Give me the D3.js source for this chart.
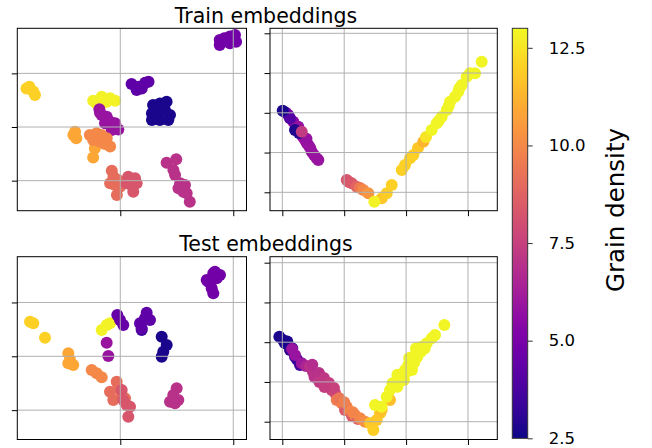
<!DOCTYPE html>
<html><head><meta charset="utf-8">
<script src="https://cdn.jsdelivr.net/npm/d3@7"></script>
<style>body{margin:0;background:#fff}svg{display:block}text{font-family:"DejaVu Sans",sans-serif;fill:#000}</style>
</head><body><svg id="c" width="652" height="448"></svg>
<script>
// ---------- data ----------
const rowTitles = ["Train embeddings", "Test embeddings"];
const colorDomain = [2.5, 13.0];
const colorTicks = [2.5, 5.0, 7.5, 10.0, 12.5];
const colorLabel = "Grain density";
const leftXTicks = [0, 20];
const leftYTicks = [-20, 0, 20];
const rightXTicks = [0, 10, 20, 30];
const rightYTicks = [0, 10, 20, 30, 40];

// [x, y, grain density]
const trainLeft = [
 [17.6,30.6,4.8],[18.4,33.1,4.8],[19.4,33.7,4.8],[20.3,34.3,4.8],[20.5,31.8,4.8],[19.4,31.2,4.8],[17.6,32.4,4.8],
 [-16.1,15.0,12.0],[-15.4,13.2,12.0],[-15.1,11.9,12.0],[-16.6,14.4,12.0],
 [-4.8,9.8,12.8],[-3.3,11.3,12.8],[-1.8,10.7,12.8],[-0.9,9.8,12.8],[-3.3,8.8,12.8],[-2.4,9.4,12.8],[-4.2,8.8,12.8],
 [-3.7,6.6,5.9],[-3.3,4.5,5.9],[-2.4,3.8,5.9],[-1.8,2.0,5.9],[-1.2,0.1,5.9],[-0.35,-0.9,5.9],[-2.7,1.4,5.9],[-1.5,-1.1,5.9],[-0.9,1.4,5.9],[-3.6,5.3,5.9],
 [2.0,16.0,4.3],[3.2,15.0,4.3],[4.4,16.5,4.3],[5.0,16.9,4.3],[2.9,13.8,4.3],[3.8,14.4,4.3],
 [5.8,8.2,2.7],[7.0,8.8,2.7],[8.2,9.4,2.7],[5.6,5.1,2.7],[6.7,5.7,2.7],[7.9,6.3,2.7],[8.8,4.5,2.7],[5.6,2.6,2.7],[7.0,2.6,2.7],[8.5,2.6,2.7],[6.1,3.8,2.7],
 [-8.0,-1.75,10.9],[-7.8,-4.2,10.9],[-8.3,-3.0,10.9],[-4.8,-11.4,10.9],[-4.5,-7.9,10.9],
 [-5.4,-3.0,10.0],[-4.2,-2.35,10.0],[-3.3,-3.0,10.0],[-2.4,-4.2,10.0],[-1.8,-7.3,10.0],[-4.8,-4.85,10.0],[-3.6,-5.5,10.0],[-2.7,-6.3,10.0],
 [-1.5,-16.3,9.1],[-1.2,-18.5,9.1],[-1.8,-21.0,9.1],[-0.9,-21.6,9.1],[-0.6,-25.35,9.1],[-0.05,-22.3,9.1],[-0.35,-19.8,9.1],
 [1.4,-18.5,8.3],[2.6,-19.1,8.3],[2.9,-21.0,8.3],[2.0,-21.6,8.3],[2.3,-24.1,8.3],[1.1,-21.0,8.3],
 [8.2,-13.3,7.0],[9.9,-12.0,7.0],[9.4,-16.0,7.0],[9.7,-17.9,7.0],[10.6,-21.0,7.0],[11.45,-21.6,7.0],[11.15,-24.1,7.0],[10.3,-22.85,7.0],[12.3,-27.85,7.0],[11.75,-24.7,7.0]
];
const trainRight = [
 [0.97,19.45,5.2],[1.78,17.76,5.5],[2.59,16.5,5.8],[0.52,20.08,4.5],[1.24,18.62,4.0],[3.67,13.16,5.9],[3.94,12.4,5.9],[4.2,11.9,5.9],[4.75,10.21,5.8],[5.12,9.38,5.9],[5.56,8.55,5.9],[5.82,8.13,5.9],
 [3.3,14.0,5.9],[4.5,11.2,5.9],[3.9,13.5,5.8],
 [0.06,20.53,2.7],[2.7,14.92,3.0],[2.05,15.67,2.8],[3.14,15.25,7.3],
 [10.41,3.09,8.3],[10.78,2.59,8.3],[11.22,2.26,8.4],[12.02,1.41,8.8],[12.56,1.08,9.5],[13.09,0.58,10.0],[13.9,-0.25,10.4],
 [16.06,-1.51,11.8],[16.87,-0.25,11.9],[17.68,1.84,12.0],[19.3,5.61,12.0],[19.83,6.87,12.0],[20.64,8.55,12.0],[21.17,9.38,12.0],[21.93,11.15,11.8],[22.79,12.73,11.3],
 [14.87,-2.37,12.8],[23.22,13.91,12.5],[24.14,15.67,12.9],[24.95,17.36,12.9],[25.76,19.02,12.9],[26.57,20.71,12.9],[27.1,22.79,12.9],[27.91,24.05,12.9],[28.44,25.31,12.9],[28.99,27.0,12.9],[29.8,29.08,12.9],[30.33,29.94,12.9],[31.14,29.94,12.9],[32.22,32.86,12.9],
 [25.3,18.0,12.9],[26.9,21.7,12.9],[28.6,26.2,12.9]
];
const testLeft = [
 [15.58,27.71,4.8],[16.46,30.83,4.8],[17.65,30.19,4.8],[16.76,31.42,4.8],[16.18,25.26,4.8],[16.46,23.4,4.8],[15.29,28.34,4.8],[17.06,28.97,4.8],
 [-15.98,12.85,12.0],[-15.4,12.26,12.0],[-13.33,6.91,12.0],
 [-3.29,9.77,12.8],[-2.41,11.62,12.8],[-1.82,12.26,12.8],
 [-2.41,5.05,5.9],[-2.12,0.11,5.9],
 [-0.53,15.34,4.5],[0.53,11.62,4.5],[-0.05,13.48,4.5],
 [3.79,9.77,3.5],[3.49,12.26,4.3],[4.37,14.11,4.3],[4.67,16.19,4.3],[3.79,10.4,4.3],[5.26,13.48,4.3],
 [7.33,7.28,2.7],[8.21,4.2,2.7],[7.61,1.71,2.7],[7.33,-0.15,2.7],
 [-9.2,1.11,10.9],[-8.9,-1.37,10.9],[-8.32,-3.23,10.9],[-9.2,-2.6,10.9],
 [-5.06,-5.09,10.0],[-4.18,-6.31,10.0],[-3.29,-7.8,10.0],
 [-1.82,-13.15,9.1],[-1.24,-16.23,9.1],[-0.64,-9.43,9.1],[-0.35,-11.88,9.1],[0.25,-14.37,9.1],[0.83,-15.6,9.1],
 [1.13,-18.09,8.3],[1.72,-18.72,8.3],[1.42,-22.43,8.3],[0.25,-12.52,8.3],[0.53,-16.23,8.3],
 [9.98,-11.88,7.0],[9.38,-14.37,7.0],[8.8,-16.86,7.0],[10.27,-16.23,7.0],[9.68,-17.46,7.0]
];
const testRight = [
 [-0.48,21.39,2.7],[0.11,20.56,2.8],[0.44,19.73,2.7],[1.24,18.04,3.0],[2.05,16.35,3.2],[2.86,14.27,3.5],[0.8,20.2,2.7],[1.6,18.5,2.9],[2.4,15.6,3.3],
 [1.57,18.29,5.9],[2.05,16.78,5.9],[3.14,14.69,6.0],
 [3.83,14.01,6.5],[4.48,13.84,7.0],[4.96,12.5,7.0],[5.56,11.75,7.0],[6.37,10.49,7.2],[7.18,9.23,7.4],[7.98,7.98,7.6],[8.52,7.22,7.8],
 [4.84,14.34,6.8],[5.92,12.25,7.0],[6.73,10.99,7.2],[7.54,9.73,7.4],[8.34,8.48,7.6],[5.2,11.25,7.0],[6.0,10.0,7.2],[6.82,8.73,7.4],
 [8.79,5.46,9.6],[9.6,4.63,9.8],[10.41,3.77,9.9],[10.13,2.94,8.5],[10.94,2.52,10.0],[11.26,1.43,8.5],[11.75,1.69,10.0],[12.23,0.68,8.7],[12.56,0.86,10.0],[13.36,0.0,10.2],
 [9.2,5.9,9.4],[10.0,4.9,9.7],[11.4,2.4,9.9],
 [14.17,-0.4,11.8],[14.71,-2.09,11.9],[15.26,0.43,11.8],[15.79,2.11,11.7],[16.06,2.94,11.6],[17.4,5.46,11.5],
 [14.98,4.2,12.9],[16.06,3.77,12.9],[16.87,6.29,12.9],[17.4,7.98,12.9],[18.21,9.23,12.9],[18.54,9.74,12.9],[19.02,11.32,12.9],[19.67,12.0,12.9],[19.67,10.49,12.9],[19.83,13.01,12.9],[20.96,13.01,12.9],[20.36,14.27,12.9],[20.91,15.52,12.9],[21.44,16.78,12.9],[21.98,18.04,12.9],[22.53,18.87,12.9],[23.34,19.73,12.9],[24.14,20.98,12.9],[24.68,21.81,12.9],[26.18,24.33,12.9],
 [18.6,8.8,12.9],[19.4,10.9,12.9],[20.2,12.6,12.9],[21.3,14.8,12.9],[21.8,16.3,12.9],[22.4,17.6,12.9],[23.0,18.4,12.9],
 [17.8,9.7,12.9],[18.6,11.8,12.9],[20.5,16.0,12.9],[21.6,18.5,12.9]
];

// ---------- layout ----------
const svg = d3.select("#c");
const color = d3.scaleSequential(d3.interpolatePlasma).domain(colorDomain);
const R = 6.0;

const panels = [
 {data: trainLeft,  f: {x0: 17.3, x1: 246.5, y0: 28.3,  y1: 210.7}, xd: [-18.23, 22.34], yd: [-31.2, 36.8],  xt: leftXTicks,  yt: leftYTicks},
 {data: trainRight, f: {x0: 270,  x1: 497.3, y0: 28.3,  y1: 210.7}, xd: [-1.99, 34.74],  yd: [-4.63, 41.26], xt: rightXTicks, yt: rightYTicks},
 {data: testLeft,   f: {x0: 17.3, x1: 246.5, y0: 256.7, y1: 439.5}, xd: [-18.23, 22.34], yd: [-30.9, 37.0],  xt: leftXTicks,  yt: leftYTicks},
 {data: testRight,  f: {x0: 270,  x1: 497.3, y0: 256.7, y1: 439.5}, xd: [-1.99, 34.74],  yd: [-4.48, 41.51], xt: rightXTicks, yt: rightYTicks}
];

const defs = svg.append("defs");
panels.forEach((p, i) => {
  const f = p.f;
  const x = d3.scaleLinear().domain(p.xd).range([f.x0, f.x1]);
  const y = d3.scaleLinear().domain(p.yd).range([f.y1, f.y0]);
  defs.append("clipPath").attr("id", "clip" + i).append("rect")
    .attr("x", f.x0).attr("y", f.y0).attr("width", f.x1 - f.x0).attr("height", f.y1 - f.y0);
  const g = svg.append("g");
  g.append("g").attr("clip-path", `url(#clip${i})`)
    .selectAll("circle").data(p.data).join("circle")
    .attr("cx", d => x(d[0])).attr("cy", d => y(d[1])).attr("r", R)
    .attr("fill", d => color(d[2]));
  // grid (drawn above points as in the reference)
  g.append("g").selectAll("line.v").data(p.xt).join("line")
    .attr("x1", d => x(d)).attr("x2", d => x(d)).attr("y1", f.y0).attr("y2", f.y1)
    .attr("stroke", "#b0b0b0").attr("stroke-width", 1);
  g.append("g").selectAll("line.h").data(p.yt).join("line")
    .attr("x1", f.x0).attr("x2", f.x1).attr("y1", d => y(d)).attr("y2", d => y(d))
    .attr("stroke", "#b0b0b0").attr("stroke-width", 1);
  // axes (ticks without labels)
  const ax = g.append("g").attr("transform", `translate(0,${f.y1})`)
    .call(d3.axisBottom(x).tickValues(p.xt).tickSize(5.5).tickFormat(""));
  const ay = g.append("g").attr("transform", `translate(${f.x0},0)`)
    .call(d3.axisLeft(y).tickValues(p.yt).tickSize(5.5).tickFormat(""));
  [ax, ay].forEach(a => { a.select(".domain").remove(); a.selectAll("line").attr("stroke", "#000").attr("stroke-width", 1); });
  g.append("rect").attr("x", f.x0).attr("y", f.y0).attr("width", f.x1 - f.x0).attr("height", f.y1 - f.y0)
    .attr("fill", "none").attr("stroke", "#000").attr("stroke-width", 1);
});

// row titles
svg.append("text").attr("x", 266).attr("y", 22.7).attr("text-anchor", "middle").attr("font-size", 20.5).text(rowTitles[0]);
svg.append("text").attr("x", 266).attr("y", 251.1).attr("text-anchor", "middle").attr("font-size", 20.5).text(rowTitles[1]);

// colorbar
const cb = {x: 512.3, w: 15.4, y0: 28.3, y1: 438.3};
const cy = d3.scaleLinear().domain(colorDomain).range([cb.y1, cb.y0]);
const grad = defs.append("linearGradient").attr("id", "cbgrad")
  .attr("x1", 0).attr("y1", 1).attr("x2", 0).attr("y2", 0);
d3.range(0, 1.0001, 0.025).forEach(t => grad.append("stop").attr("offset", t).attr("stop-color", d3.interpolatePlasma(t)));
svg.append("rect").attr("x", cb.x).attr("y", cb.y0).attr("width", cb.w).attr("height", cb.y1 - cb.y0)
  .attr("fill", "url(#cbgrad)").attr("stroke", "#333").attr("stroke-width", 1);
const cax = svg.append("g").attr("transform", `translate(${cb.x + cb.w},0)`)
  .call(d3.axisRight(cy).tickValues(colorTicks).tickSize(5).tickPadding(16).tickFormat(d3.format(".1f")));
cax.select(".domain").remove();
cax.selectAll("line").attr("stroke", "#333");
cax.selectAll("text").attr("font-size", 16.5).attr("font-family", "DejaVu Sans").attr("fill", "#000");
svg.append("text").attr("transform", "translate(624,210) rotate(-90)").attr("text-anchor", "middle")
  .attr("font-size", 24.5).text(colorLabel);
</script>
</body></html>
